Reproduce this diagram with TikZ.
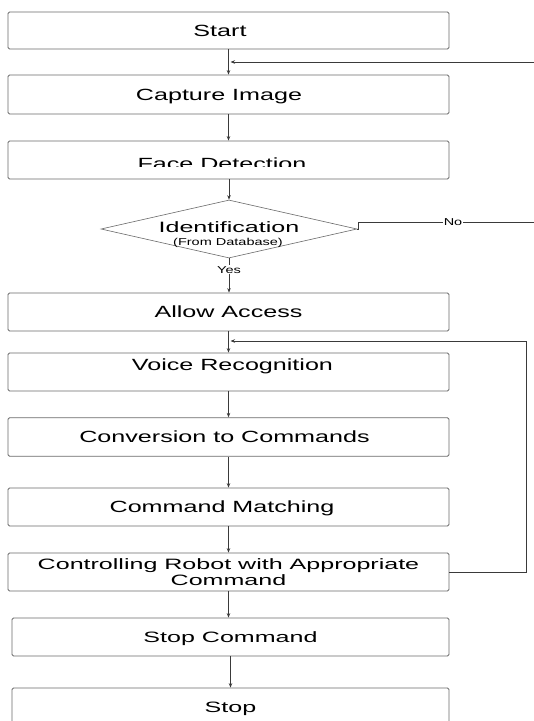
\documentclass[tikz,border=0pt]{standalone}
\usepackage{fontspec}
\usetikzlibrary{shapes.geometric,arrows.meta}
\newfontfamily\fA[FakeStretch=1.55]{Liberation Sans}
\newfontfamily\fB[FakeStretch=1.67]{Liberation Sans}
\newfontfamily\fC[FakeStretch=1.45]{Liberation Sans}
\definecolor{edge}{HTML}{6A6A6A}
\definecolor{wire}{HTML}{3A3A3A}
\begin{document}
\begin{tikzpicture}[x=1pt,y=-1pt,
  box/.style={draw=edge, line width=0.8pt, rounded corners=1.5pt, minimum width=441pt,
    inner sep=0pt, text height=11.6pt, text depth=0pt, font=\fA\fontsize{16.2}{18}\selectfont},
  boxB/.style={draw=edge, line width=0.8pt, rounded corners=1.5pt, minimum width=441pt,
    inner sep=0pt, font=\fB\fontsize{15}{16.7}\selectfont},
  capB/.style={text height=10.7pt, text depth=0pt},
  txt/.style={inner sep=0pt, text height=11.6pt, text depth=0pt, font=\fA\fontsize{16.2}{18}\selectfont},
  txtB/.style={inner sep=0pt, font=\fB\fontsize{15}{17}\selectfont},
  smallt/.style={inner sep=0pt, font=\fC\fontsize{10}{12}\selectfont},
  lbl/.style={fill=white, inner sep=1pt, font=\fC\fontsize{10}{12}\selectfont},
  dia/.style={shape=diamond, draw=edge, line width=0.6pt, minimum width=256pt,
    minimum height=58pt, inner sep=0pt},
  hoff/.style={execute at begin node={\hspace*{#1}}},
  wireln/.style={draw=wire, line width=0.7pt},
  arr/.style={draw=wire, line width=0.7pt, -{Stealth[length=4.5pt,width=3.5pt]}}
]
\useasboundingbox[fill=white] (0,0) rectangle (534,721);

\node[box, minimum height=37pt, hoff=-17pt] (start) at (228.5,30.5) {Start};
\node[box, minimum height=39pt, hoff=-19pt] (capture) at (228.5,94.5) {Capture Image};
\node[box, minimum height=38pt] (face) at (228.5,160) {};
\begin{scope}
  \clip (8,141) rectangle (449,166.7);
  \node[txt] (facet) at (222,163.3) {Face Detection};
\end{scope}
\node[dia] (idf) at (229,229) {};
\node[txtB, anchor=base] (idt) at (229,232) {Identification};
\node[smallt, anchor=base] (ids) at (228,245) {(From Database)};
\node[box, minimum height=38pt] (allow) at (228.5,312) {Allow Access};
\node[box, minimum height=38pt] (voice) at (228.5,372) {};
\node[txt] (voicet) at (232.5,365) {Voice Recognition};
\node[box, minimum height=38.5pt, hoff=-8pt] (conv) at (228.5,437) {Conversion to Commands};
\node[box, minimum height=38pt, hoff=-13pt] (match) at (228.5,507) {Command Matching};
\node[boxB, minimum height=38pt, align=center] (control) at (228.5,572)
  {Controlling Robot with Appropriate\\Command};
\node[boxB, capB, minimum width=437pt, minimum height=38pt] (stopcmd) at (230.5,637) {Stop Command};
\node[boxB, capB, minimum width=437pt, minimum height=38pt] (stop) at (230.5,707) {Stop};

\coordinate (fbR) at (534,62);
\coordinate (noK) at (358,222);
\coordinate (noR) at (534,222);
\coordinate (lpR) at (526,341);

\draw[arr] (start) -- (capture);
\draw[arr] (fbR) -- ([xshift=2pt]start.south |- fbR);
\draw[arr] (capture) -- (face);
\draw[arr] (face.south -| idf.north) -- (idf.north);
\draw[arr] (idf.south) -- node[lbl, pos=0.34]{Yes} (idf.south |- allow.north);
\draw[wireln] (idf.east) -| (noK) -- node[lbl, pos=0.54]{No} (noR);
\draw[arr] (allow) -- (voice);
\draw[arr] (voice) -- (conv);
\draw[arr] (conv) -- (match);
\draw[arr] (match) -- (control);
\draw[arr] (control.east) -| (lpR) -- ([xshift=2pt]allow.south |- lpR);
\draw[arr] (control.south) -- (control.south |- stopcmd.north);
\draw[arr] (stopcmd) -- (stop);
\end{tikzpicture}
\end{document}
